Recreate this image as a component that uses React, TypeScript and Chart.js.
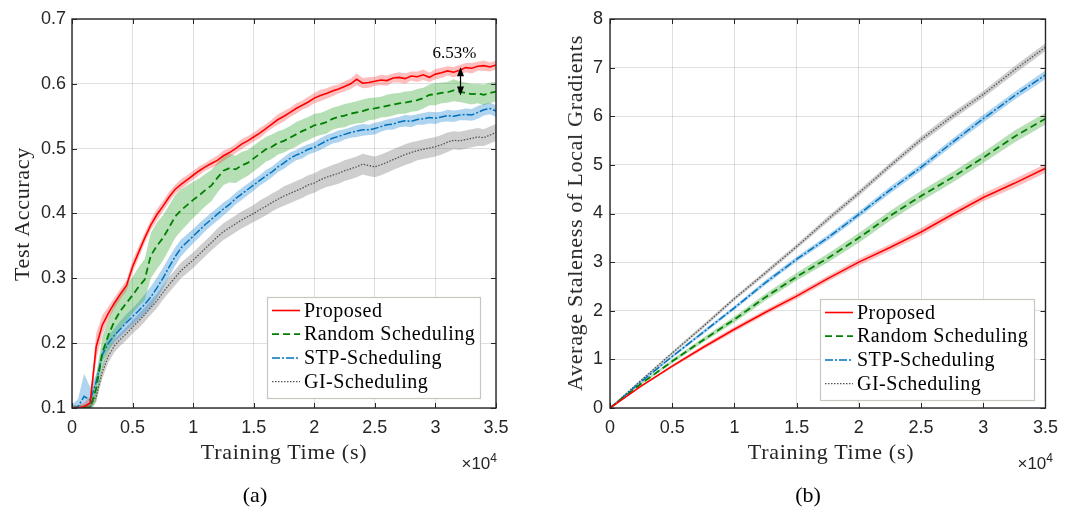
import React, { useEffect, useRef } from 'react';
import { Chart, registerables } from 'chart.js';

Chart.register(...registerables);

// ---------------- data ----------------
const seriesNames = ['Proposed', 'Random Scheduling', 'STP-Scheduling', 'GI-Scheduling'];

const xTickValues = [0, 5000, 10000, 15000, 20000, 25000, 30000, 35000];
const xTickLabels = ['0', '0.5', '1', '1.5', '2', '2.5', '3', '3.5'];
const yTickValuesA = [0.1, 0.2, 0.3, 0.4, 0.5, 0.6, 0.7];
const yTickLabelsA = ['0.1', '0.2', '0.3', '0.4', '0.5', '0.6', '0.7'];
const yTickValuesB = [0, 1, 2, 3, 4, 5, 6, 7, 8];
const yTickLabelsB = ['0', '1', '2', '3', '4', '5', '6', '7', '8'];

// (a) test accuracy, training time in seconds
const timeA = [
  0, 500, 1000, 1500, 2000, 2500, 3000, 3500, 4000, 4500,
  5000, 5500, 6000, 6500, 7000, 7500, 8000, 8500, 9000, 9500,
  10000, 10500, 11000, 11500, 12000, 12500, 13000, 13500, 14000, 14500,
  15000, 15500, 16000, 16500, 17000, 17500, 18000, 18500, 19000, 19500,
  20000, 20500, 21000, 21500, 22000, 22500, 23000, 23500, 24000, 24500,
  25000, 25500, 26000, 26500, 27000, 27500, 28000, 28500, 29000, 29500,
  30000, 30500, 31000, 31500, 32000, 32500, 33000, 33500, 34000, 34500,
  35000,
];
const proposedAcc = [
  0.100, 0.100, 0.102, 0.108, 0.195, 0.228, 0.246, 0.262, 0.276, 0.289,
  0.318, 0.340, 0.362, 0.382, 0.398, 0.411, 0.425, 0.437, 0.445, 0.452,
  0.459, 0.466, 0.472, 0.477, 0.482, 0.489, 0.494, 0.500, 0.507, 0.512,
  0.518, 0.524, 0.531, 0.538, 0.545, 0.550, 0.556, 0.562, 0.567, 0.572,
  0.578, 0.582, 0.585, 0.589, 0.592, 0.596, 0.600, 0.607, 0.601, 0.602,
  0.604, 0.606, 0.605, 0.609, 0.610, 0.608, 0.612, 0.611, 0.614, 0.610,
  0.615, 0.617, 0.620, 0.618, 0.621, 0.625, 0.624, 0.627, 0.628, 0.626,
  0.629,
];
const proposedAccSpread = [
  0.004, 0.004, 0.006, 0.010, 0.020, 0.015, 0.010, 0.008, 0.008, 0.008,
  0.009, 0.009, 0.008, 0.008, 0.009, 0.008, 0.008, 0.007, 0.008, 0.007,
  0.007, 0.007, 0.006, 0.007, 0.007, 0.008, 0.007, 0.007, 0.008, 0.007,
  0.007, 0.008, 0.007, 0.007, 0.008, 0.008, 0.007, 0.008, 0.007, 0.008,
  0.008, 0.009, 0.008, 0.008, 0.007, 0.008, 0.008, 0.009, 0.008, 0.008,
  0.007, 0.008, 0.008, 0.007, 0.008, 0.008, 0.007, 0.008, 0.008, 0.007,
  0.008, 0.008, 0.007, 0.008, 0.008, 0.007, 0.008, 0.007, 0.008, 0.007,
  0.007,
];
const randomAcc = [
  0.100, 0.100, 0.100, 0.101, 0.130, 0.185, 0.212, 0.234, 0.250, 0.262,
  0.274, 0.287, 0.298, 0.335, 0.350, 0.362, 0.378, 0.395, 0.405, 0.413,
  0.421, 0.428, 0.436, 0.443, 0.455, 0.466, 0.470, 0.468, 0.474, 0.478,
  0.485, 0.492, 0.499, 0.503, 0.509, 0.512, 0.517, 0.522, 0.527, 0.531,
  0.536, 0.538, 0.541, 0.546, 0.549, 0.551, 0.554, 0.556, 0.558, 0.561,
  0.562, 0.564, 0.566, 0.568, 0.570, 0.571, 0.573, 0.575, 0.578, 0.583,
  0.584, 0.586, 0.587, 0.590, 0.588, 0.586, 0.584, 0.585, 0.583, 0.586,
  0.588,
];
const randomAccSpread = [
  0.004, 0.004, 0.005, 0.008, 0.020, 0.025, 0.025, 0.027, 0.028, 0.028,
  0.028, 0.030, 0.032, 0.035, 0.036, 0.035, 0.034, 0.033, 0.032, 0.030,
  0.028, 0.026, 0.025, 0.024, 0.023, 0.022, 0.022, 0.021, 0.021, 0.020,
  0.020, 0.020, 0.019, 0.019, 0.018, 0.018, 0.018, 0.019, 0.018, 0.018,
  0.018, 0.017, 0.018, 0.017, 0.017, 0.018, 0.017, 0.017, 0.018, 0.017,
  0.017, 0.016, 0.017, 0.017, 0.016, 0.017, 0.016, 0.017, 0.016, 0.016,
  0.017, 0.016, 0.016, 0.017, 0.016, 0.016, 0.016, 0.015, 0.016, 0.016,
  0.015,
];
const stpAcc = [
  0.100, 0.102, 0.118, 0.112, 0.140, 0.182, 0.200, 0.212, 0.222, 0.232,
  0.241, 0.250, 0.260, 0.271, 0.285, 0.300, 0.317, 0.333, 0.347, 0.356,
  0.365, 0.374, 0.383, 0.391, 0.399, 0.407, 0.414, 0.423, 0.430, 0.437,
  0.444, 0.451, 0.458, 0.464, 0.472, 0.478, 0.485, 0.490, 0.494, 0.499,
  0.502, 0.507, 0.512, 0.516, 0.519, 0.522, 0.525, 0.527, 0.529, 0.529,
  0.531, 0.534, 0.537, 0.538, 0.541, 0.543, 0.542, 0.545, 0.546, 0.548,
  0.547, 0.549, 0.551, 0.550, 0.552, 0.553, 0.552, 0.556, 0.560, 0.562,
  0.558,
];
const stpAccSpread = [
  0.005, 0.012, 0.035, 0.020, 0.012, 0.010, 0.011, 0.011, 0.012, 0.013,
  0.013, 0.014, 0.015, 0.016, 0.016, 0.016, 0.015, 0.014, 0.013, 0.012,
  0.011, 0.011, 0.010, 0.010, 0.010, 0.010, 0.009, 0.009, 0.009, 0.009,
  0.009, 0.008, 0.009, 0.008, 0.008, 0.009, 0.009, 0.008, 0.009, 0.008,
  0.008, 0.009, 0.009, 0.008, 0.009, 0.008, 0.008, 0.009, 0.009, 0.008,
  0.009, 0.008, 0.008, 0.009, 0.008, 0.009, 0.009, 0.008, 0.009, 0.009,
  0.009, 0.008, 0.009, 0.009, 0.008, 0.009, 0.009, 0.010, 0.009, 0.009,
  0.009,
];
const giAcc = [
  0.100, 0.100, 0.100, 0.102, 0.118, 0.155, 0.180, 0.196, 0.206, 0.215,
  0.225, 0.234, 0.244, 0.255, 0.265, 0.278, 0.290, 0.301, 0.312, 0.320,
  0.328, 0.337, 0.346, 0.355, 0.364, 0.372, 0.378, 0.384, 0.390, 0.395,
  0.400, 0.406, 0.411, 0.417, 0.422, 0.427, 0.431, 0.435, 0.439, 0.444,
  0.447, 0.452, 0.456, 0.459, 0.462, 0.466, 0.469, 0.472, 0.476, 0.474,
  0.472, 0.475, 0.479, 0.483, 0.487, 0.491, 0.494, 0.497, 0.499, 0.501,
  0.503, 0.506, 0.510, 0.513, 0.512, 0.514, 0.516, 0.518, 0.517, 0.521,
  0.525,
];
const giAccSpread = [
  0.004, 0.004, 0.004, 0.005, 0.008, 0.010, 0.010, 0.010, 0.010, 0.010,
  0.010, 0.011, 0.011, 0.011, 0.011, 0.011, 0.012, 0.012, 0.012, 0.012,
  0.012, 0.012, 0.012, 0.012, 0.013, 0.013, 0.013, 0.013, 0.013, 0.013,
  0.013, 0.014, 0.014, 0.014, 0.014, 0.015, 0.015, 0.015, 0.015, 0.015,
  0.015, 0.015, 0.015, 0.016, 0.016, 0.016, 0.016, 0.016, 0.016, 0.016,
  0.016, 0.016, 0.016, 0.016, 0.016, 0.016, 0.016, 0.015, 0.015, 0.015,
  0.015, 0.015, 0.015, 0.014, 0.014, 0.014, 0.014, 0.014, 0.013, 0.013,
  0.013,
];

// gap annotation in (a)
const gapTime = 32000;
const gapLabel = '6.53%';

// (b) average staleness
const timeB = [0, 2500, 5000, 7500, 10000, 12500, 15000, 17500, 20000, 22500, 25000, 27500, 30000, 32500, 35000];
const proposedStale = [0, 0.45, 0.86, 1.25, 1.62, 1.97, 2.30, 2.66, 3.00, 3.30, 3.62, 3.98, 4.33, 4.62, 4.93];
const randomStale = [0, 0.50, 0.96, 1.40, 1.82, 2.28, 2.70, 3.08, 3.50, 3.95, 4.36, 4.74, 5.15, 5.58, 5.95];
const stpStale = [0, 0.54, 1.06, 1.56, 2.06, 2.58, 3.06, 3.50, 3.98, 4.48, 4.95, 5.46, 5.95, 6.42, 6.85];
const giStale = [0, 0.57, 1.13, 1.68, 2.25, 2.78, 3.32, 3.88, 4.42, 4.98, 5.52, 6.00, 6.45, 6.95, 7.42];
const proposedStaleSpread = [0, 0.02, 0.03, 0.04, 0.05, 0.05, 0.06, 0.06, 0.07, 0.07, 0.08, 0.08, 0.08, 0.09, 0.09];
const randomStaleSpread = [0, 0.02, 0.04, 0.05, 0.06, 0.07, 0.08, 0.09, 0.10, 0.10, 0.11, 0.11, 0.11, 0.12, 0.12];
const stpStaleSpread = [0, 0.02, 0.03, 0.04, 0.04, 0.05, 0.05, 0.06, 0.06, 0.07, 0.07, 0.07, 0.08, 0.08, 0.09];
const giStaleSpread = [0, 0.02, 0.03, 0.04, 0.04, 0.05, 0.05, 0.06, 0.06, 0.06, 0.07, 0.07, 0.07, 0.08, 0.08];

// ---------------- styles ----------------
const STYLES = [
  { color: '#ff0000', band: 'rgba(255,40,40,0.30)', dash: [] as number[], width: 1.6 },
  { color: '#008000', band: 'rgba(40,160,40,0.34)', dash: [7, 4], width: 1.8 },
  { color: '#0072bd', band: 'rgba(20,130,210,0.34)', dash: [8, 2, 2, 2], width: 1.5 },
  { color: '#555555', band: 'rgba(120,120,120,0.36)', dash: [1.5, 1.5], width: 1.3 },
];
const INK = '#262626';
const SANS = '"Liberation Sans", Arial, Helvetica, sans-serif';
const SERIF = '"Liberation Serif", "Times New Roman", serif';

function buildDatasets(time: number[], means: number[][], spreads: number[][]) {
  const ds: any[] = [];
  means.forEach((m, s) => {
    const st = STYLES[s];
    ds.push({
      data: time.map((t, i) => ({ x: t, y: m[i] + spreads[s][i] })),
      borderWidth: 0, borderColor: 'rgba(0,0,0,0)', pointRadius: 0,
      fill: '+1', backgroundColor: st.band, order: 10 + s,
    });
    ds.push({
      data: time.map((t, i) => ({ x: t, y: m[i] - spreads[s][i] })),
      borderWidth: 0, borderColor: 'rgba(0,0,0,0)', pointRadius: 0,
      fill: false, order: 10 + s,
    });
  });
  means.forEach((m, s) => {
    const st = STYLES[s];
    ds.push({
      data: time.map((t, i) => ({ x: t, y: m[i] })),
      borderColor: st.color, borderWidth: st.width, borderDash: st.dash,
      pointRadius: 0, fill: false, order: s,
    });
  });
  return ds;
}

type LegendBox = { right: number; bottom: number; w: number; h: number };

function drawLegend(ctx: any, a: any, box: LegendBox) {
  const x = Math.round(a.right - box.right - box.w);
  const y = Math.round(a.bottom - box.bottom - box.h);
  ctx.setLineDash([]);
  ctx.fillStyle = '#ffffff';
  ctx.fillRect(x, y, box.w, box.h);
  ctx.strokeStyle = '#c9c6c0';
  ctx.lineWidth = 1.2;
  ctx.strokeRect(x + 0.5, y + 0.5, box.w, box.h);
  ctx.font = `20px ${SERIF}`;
  ctx.textBaseline = 'middle';
  ctx.textAlign = 'left';
  if ('letterSpacing' in ctx) ctx.letterSpacing = '0.5px';
  seriesNames.forEach((name, i) => {
    const cy = y + 13.5 + i * 23.7;
    const st = STYLES[i];
    ctx.strokeStyle = st.color;
    ctx.lineWidth = st.width;
    ctx.setLineDash(st.dash);
    ctx.beginPath();
    ctx.moveTo(x + 5, cy);
    ctx.lineTo(x + 33, cy);
    ctx.stroke();
    ctx.setLineDash([]);
    ctx.fillStyle = '#000000';
    ctx.fillText(name, x + 37, cy + 1);
  });
  if ('letterSpacing' in ctx) ctx.letterSpacing = '0px';
}

function framePlugin(box: LegendBox, annotate?: (chart: any) => void) {
  return {
    id: 'matlabFrame',
    afterDraw(chart: any) {
      const { ctx, chartArea: a } = chart;
      const xs = chart.scales.x;
      const ys = chart.scales.y;
      ctx.save();
      ctx.setLineDash([]);
      ctx.strokeStyle = INK;
      ctx.lineWidth = 1;
      ctx.beginPath();
      xs.ticks.forEach((t: any) => {
        const p = Math.round(xs.getPixelForValue(t.value)) + 0.5;
        ctx.moveTo(p, a.bottom); ctx.lineTo(p, a.bottom - 5);
        ctx.moveTo(p, a.top); ctx.lineTo(p, a.top + 5);
      });
      ys.ticks.forEach((t: any) => {
        const p = Math.round(ys.getPixelForValue(t.value)) + 0.5;
        ctx.moveTo(a.left, p); ctx.lineTo(a.left + 5, p);
        ctx.moveTo(a.right, p); ctx.lineTo(a.right - 5, p);
      });
      ctx.stroke();
      ctx.lineWidth = 1.4;
      ctx.strokeRect(a.left, a.top, a.right - a.left, a.bottom - a.top);
      if (annotate) annotate(chart);
      drawLegend(ctx, a, box);
      ctx.restore();
    },
  };
}

function gapAnnotation(chart: any) {
  const { ctx } = chart;
  const xs = chart.scales.x;
  const ys = chart.scales.y;
  const i = timeA.indexOf(gapTime);
  const px = Math.round(xs.getPixelForValue(gapTime)) + 0.5;
  const y1 = ys.getPixelForValue(proposedAcc[i]) - 3;
  const y2 = ys.getPixelForValue(randomAcc[i]) + 4;
  ctx.setLineDash([]);
  ctx.strokeStyle = '#000';
  ctx.lineWidth = 1.2;
  ctx.beginPath();
  ctx.moveTo(px, y1 + 7);
  ctx.lineTo(px, y2 - 7);
  ctx.stroke();
  ctx.fillStyle = '#000';
  ctx.beginPath();
  ctx.moveTo(px, y1); ctx.lineTo(px - 3.5, y1 + 9); ctx.lineTo(px + 3.5, y1 + 9); ctx.closePath();
  ctx.fill();
  ctx.beginPath();
  ctx.moveTo(px, y2); ctx.lineTo(px - 3.5, y2 - 9); ctx.lineTo(px + 3.5, y2 - 9); ctx.closePath();
  ctx.fill();
  ctx.font = `17px ${SERIF}`;
  ctx.textAlign = 'center';
  ctx.textBaseline = 'middle';
  ctx.fillStyle = '#000';
  ctx.fillText(gapLabel, px - 6, y1 - 14);
}

function makeOptions(opts: {
  yMin: number; yMax: number; yTicks: number[]; yLabels: string[];
  yWidth: number; yPad: number; padRight: number;
}) {
  const grid = { color: 'rgba(38,38,38,0.14)', lineWidth: 1, drawTicks: false };
  const font = { family: SANS, size: 18 };
  return {
    animation: false,
    responsive: false,
    events: [],
    layout: { padding: { top: 19, right: opts.padRight, bottom: 0, left: 0 } },
    plugins: { legend: { display: false }, tooltip: { enabled: false } },
    elements: { point: { radius: 0 }, line: { tension: 0 } },
    scales: {
      x: {
        type: 'linear', min: 0, max: 35000,
        afterBuildTicks: (ax: any) => { ax.ticks = xTickValues.map((value) => ({ value })); },
        afterFit: (ax: any) => { ax.height = 106; },
        ticks: {
          callback: (_v: any, i: number) => xTickLabels[i],
          font, color: INK, padding: 9, maxRotation: 0, autoSkip: false,
        },
        grid, border: { display: false },
      },
      y: {
        type: 'linear', min: opts.yMin, max: opts.yMax,
        afterBuildTicks: (ax: any) => { ax.ticks = opts.yTicks.map((value) => ({ value })); },
        afterFit: (ax: any) => { ax.width = opts.yWidth; },
        ticks: {
          callback: (_v: any, i: number) => opts.yLabels[i],
          font, color: INK, padding: opts.yPad, autoSkip: false,
        },
        grid, border: { display: false },
      },
    },
  };
}

function Label(props: { x: number; y: number; text: React.ReactNode; size: number; rotate?: boolean; family?: string; spacing?: number; color?: string }) {
  return (
    <div
      style={{
        position: 'absolute', left: props.x, top: props.y,
        transform: `translate(-50%, -50%)${props.rotate ? ' rotate(-90deg)' : ''}`,
        font: `${props.size}px ${props.family || SERIF}`,
        letterSpacing: props.spacing ? `${props.spacing}px` : undefined,
        color: props.color || INK, whiteSpace: 'nowrap', lineHeight: 1,
      }}
    >
      {props.text}
    </div>
  );
}

function Exponent(props: { right: number; y: number }) {
  return (
    <div
      style={{
        position: 'absolute', right: 1067 - props.right, top: props.y,
        transform: 'translateY(-50%)', font: `17px ${SANS}`, color: INK,
        whiteSpace: 'nowrap', lineHeight: 1,
      }}
    >
      ×10<span style={{ fontSize: 12, position: 'relative', top: -7 }}>4</span>
    </div>
  );
}

export default function App() {
  const refA = useRef<HTMLCanvasElement>(null);
  const refB = useRef<HTMLCanvasElement>(null);

  useEffect(() => {
    const chartA = new Chart(refA.current as HTMLCanvasElement, {
      type: 'line',
      data: {
        datasets: buildDatasets(
          timeA,
          [proposedAcc, randomAcc, stpAcc, giAcc],
          [proposedAccSpread, randomAccSpread, stpAccSpread, giAccSpread],
        ),
      },
      options: makeOptions({
        yMin: 0.1, yMax: 0.7, yTicks: yTickValuesA, yLabels: yTickLabelsA,
        yWidth: 72, yPad: 6, padRight: 44,
      }) as any,
      plugins: [framePlugin({ right: 16, bottom: 10, w: 213, h: 101 }, gapAnnotation)],
    });
    const chartB = new Chart(refB.current as HTMLCanvasElement, {
      type: 'line',
      data: {
        datasets: buildDatasets(
          timeB,
          [proposedStale, randomStale, stpStale, giStale],
          [proposedStaleSpread, randomStaleSpread, stpStaleSpread, giStaleSpread],
        ),
      },
      options: makeOptions({
        yMin: 0, yMax: 8, yTicks: yTickValuesB, yLabels: yTickLabelsB,
        yWidth: 70, yPad: 7, padRight: 15,
      }) as any,
      plugins: [framePlugin({ right: 11, bottom: 8, w: 214, h: 101 })],
    });
    return () => {
      chartA.destroy();
      chartB.destroy();
    };
  }, []);

  return (
    <div style={{ position: 'absolute', left: 0, top: 0, width: 1067, height: 514, background: '#fff', overflow: 'hidden' }}>
      <canvas ref={refA} width={540} height={514} style={{ position: 'absolute', left: 0, top: 0, width: 540, height: 514 }} />
      <canvas ref={refB} width={527} height={514} style={{ position: 'absolute', left: 540, top: 0, width: 527, height: 514 }} />
      <Label x={22} y={214} text="Test Accuracy" size={22} spacing={0.7} rotate />
      <Label x={284} y={452} text="Training Time (s)" size={22} spacing={0.7} />
      <Exponent right={497} y={463} />
      <Label x={255} y={495} text="(a)" size={22} color="#000" />
      <Label x={575} y={213} text="Average Staleness of Local Gradients" size={22} spacing={0.7} rotate />
      <Label x={831} y={452} text="Training Time (s)" size={22} spacing={0.7} />
      <Exponent right={1053} y={463} />
      <Label x={808} y={495} text="(b)" size={22} color="#000" />
    </div>
  );
}
